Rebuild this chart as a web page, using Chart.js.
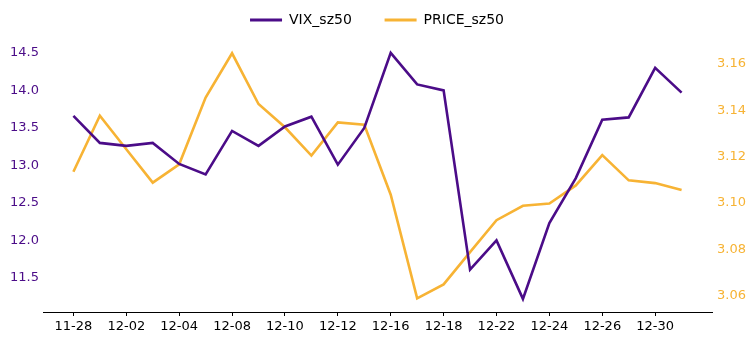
<!DOCTYPE html>
<html>
<head>
<meta charset="utf-8">
<script src="https://cdn.jsdelivr.net/npm/chart.js@4/dist/chart.umd.min.js"></script>
<style>
    html, body { margin: 0; padding: 0; background: #fff; }
    #wrap { width: 754px; height: 340px; }
</style>
</head>
<body>
<div id="wrap"><canvas id="chart" width="754" height="340"></canvas></div>
<script>
// trading days
const dates = ['11-28', '12-01', '12-02', '12-03', '12-04', '12-05', '12-08', '12-09', '12-10', '12-11', '12-12', '12-15',
    '12-16', '12-17', '12-18', '12-19', '12-22', '12-23', '12-24', '12-25', '12-26', '12-29', '12-30', '12-31'];

const vix_sz50 = [13.66, 13.30, 13.26, 13.30, 13.02, 12.88, 13.46, 13.26, 13.52, 13.65, 13.01, 13.50,
    14.50, 14.08, 14.00, 11.61, 12.00, 11.22, 12.23, 12.83, 13.61, 13.64, 14.30, 13.97];

const price_sz50 = [3.1135, 3.1377, 3.1232, 3.1088, 3.1167, 3.1455, 3.1646, 3.1427, 3.1327, 3.1205, 3.1348, 3.1338,
    3.1036, 3.0589, 3.0649, 3.0788, 3.0926, 3.0988, 3.0998, 3.1076, 3.1207, 3.1098, 3.1086, 3.1056];

const vix_ticks = [11.5, 12.0, 12.5, 13.0, 13.5, 14.0, 14.5];
const price_ticks = [3.06, 3.08, 3.10, 3.12, 3.14, 3.16];

const PURPLE = '#4b0c88';
const ORANGE = '#f7b334';

Chart.defaults.font.family = '"DejaVu Sans", sans-serif';
Chart.defaults.font.size = 13;
Chart.defaults.color = '#000';

// a bit more room between the legend and the plot
const legend_gap = {
    id: 'legend_gap',
    beforeUpdate: c => {
        const lg = c.legend;
        if (!lg || lg._gap) return;
        const fit = lg.fit;
        lg.fit = function () {
            fit.call(this);
            this.height += 4;
        };
        lg._gap = true;
    },
};

const ctx = document.getElementById('chart').getContext('2d');

const chart = new Chart(ctx, {
    type: 'line',
    data: {
        datasets: [
            {
                label: 'VIX_sz50',
                data: vix_sz50.map((y, x) => ({ x, y })),
                borderColor: PURPLE,
                backgroundColor: PURPLE,
                borderWidth: 2.6,
                pointRadius: 0,
                tension: 0,
                yAxisID: 'y',
            },
            {
                label: 'PRICE_sz50',
                data: price_sz50.map((y, x) => ({ x, y })),
                borderColor: ORANGE,
                backgroundColor: ORANGE,
                borderWidth: 2.6,
                pointRadius: 0,
                tension: 0,
                yAxisID: 'y1',
            },
        ],
    },
    plugins: [legend_gap],
    options: {
        responsive: false,
        animation: false,
        layout: { padding: { top: -2 } },
        scales: {
            x: {
                type: 'linear',
                min: -1.15,
                max: 24.15,
                afterBuildTicks: axis => {
                    axis.ticks = dates.map((d, i) => ({ value: i })).filter(t => t.value % 2 === 0);
                },
                afterFit: axis => { axis.height = 28; },
                ticks: {
                    autoSkip: false,
                    maxRotation: 0,
                    padding: 3,
                    callback: v => dates[v],
                },
                grid: { drawOnChartArea: false, drawTicks: true, tickLength: 4, color: '#000' },
                border: { display: true, color: '#000', width: 1 },
            },
            y: {
                position: 'left',
                min: 11.045,
                max: 14.659,
                afterBuildTicks: axis => { axis.ticks = vix_ticks.map(value => ({ value })); },
                afterFit: axis => { axis.width = 43; },
                ticks: {
                    color: PURPLE,
                    padding: 4,
                    callback: v => v.toFixed(1),
                },
                grid: { display: false, drawTicks: false },
                border: { display: false },
            },
            y1: {
                position: 'right',
                min: 3.053,
                max: 3.1699,
                afterBuildTicks: axis => { axis.ticks = price_ticks.map(value => ({ value })); },
                afterFit: axis => { axis.width = 42; },
                ticks: {
                    color: ORANGE,
                    padding: 5,
                    callback: v => v.toFixed(2),
                },
                grid: { display: false, drawTicks: false },
                border: { display: false },
            },
        },
        plugins: {
            legend: {
                position: 'top',
                labels: {
                    boxWidth: 32,
                    boxHeight: 3,
                    padding: 15,
                    color: '#000',
                    font: { size: 14 },
                    // wider gap after the first entry, like the reference
                    generateLabels: c => Chart.defaults.plugins.legend.labels.generateLabels(c).map((item, i) => {
                        if (i === 0) item.text = item.text + '    ';
                        item.lineWidth = 0;
                        return item;
                    }),
                },
            },
            tooltip: { enabled: false },
        },
    },
});
</script>
</body>
</html>
